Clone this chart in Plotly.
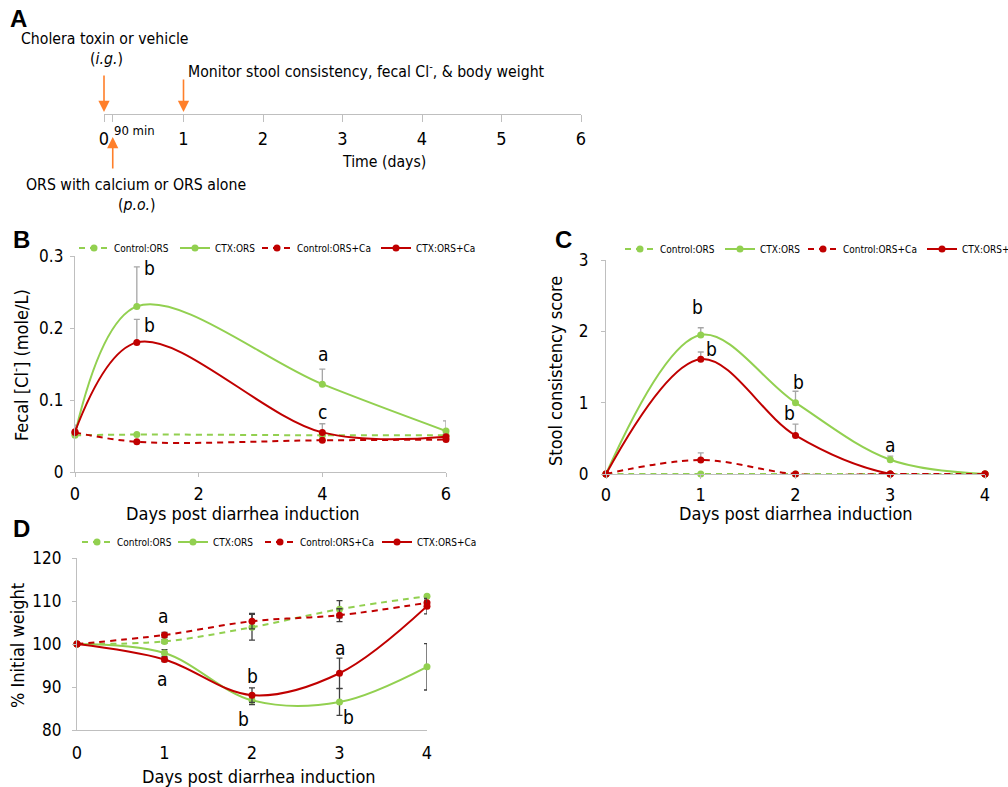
import plotly.graph_objects as go

W, H = 1008, 787
FONT = "DejaVu Sans Condensed, DejaVu Sans, sans-serif"
GREEN = "#92D050"
RED = "#C00000"
ORANGE = "#FF7F2A"

def px(x):
    return x / W

def py(y):
    return 1 - y / H

series_names = ["Control:ORS", "CTX:ORS", "Control:ORS+Ca", "CTX:ORS+Ca"]
series_colors = [GREEN, GREEN, RED, RED]
series_dash = ["6px,5px", "solid", "6px,5px", "solid"]

# Panel A timeline (days) and events
timeline_days = [0, 1, 2, 3, 4, 5, 6]
ors_day = 0.11          # 90 min after toxin (drawn schematic)
toxin_day = 0
monitor_day = 1

# Panel B: fecal chloride
b_days = [0, 1, 4, 6]
b_vals = {
    "Control:ORS": [0.051, 0.052, 0.051, 0.051],
    "CTX:ORS": [0.053, 0.230, 0.122, 0.057],
    "Control:ORS+Ca": [0.055, 0.042, 0.044, 0.045],
    "CTX:ORS+Ca": [0.056, 0.180, 0.055, 0.049],
}
b_err = {
    "Control:ORS": [0.004, 0.0, 0.0, 0.0],
    "CTX:ORS": [0.012, 0.055, 0.021, 0.014],
    "Control:ORS+Ca": [0.0, 0.0, 0.0, 0.0],
    "CTX:ORS+Ca": [0.006, 0.032, 0.012, 0.004],
}
b_letters = [(1.21, 0.283, "b"), (1.21, 0.204, "b"), (4.01, 0.164, "a"), (4.0, 0.083, "c")]

# Panel C: stool consistency
c_days = [0, 1, 2, 3, 4]
c_vals = {
    "Control:ORS": [0, 0, 0, 0, 0],
    "CTX:ORS": [0, 1.95, 1.0, 0.2, 0],
    "Control:ORS+Ca": [0, 0.196, 0, 0, 0],
    "CTX:ORS+Ca": [0, 1.61, 0.54, 0, 0],
}
c_err = {
    "Control:ORS": [0, 0, 0, 0, 0],
    "CTX:ORS": [0, 0.10, 0.16, 0.05, 0],
    "Control:ORS+Ca": [0, 0.10, 0, 0, 0],
    "CTX:ORS+Ca": [0, 0.10, 0.16, 0, 0],
}
c_letters = [(0.97, 2.34, "b"), (1.11, 1.75, "b"), (2.03, 1.29, "b"), (1.94, 0.86, "b"), (3.0, 0.41, "a")]

# Panel D: % initial weight
d_days = [0, 1, 2, 3, 4]
d_vals = {
    "Control:ORS": [100, 100.6, 103.9, 108.1, 111.1],
    "CTX:ORS": [100, 97.9, 86.9, 86.5, 94.7],
    "Control:ORS+Ca": [100, 102.1, 105.3, 106.7, 109.6],
    "CTX:ORS+Ca": [100, 96.4, 88.1, 93.2, 108.8],
}
d_err = {
    "Control:ORS": [0, 0.4, 3.0, 2.0, 0.3],
    "CTX:ORS": [0, 0.8, 1.0, 3.1, 5.4],
    "Control:ORS+Ca": [0, 0.6, 1.8, 1.5, 0.6],
    "CTX:ORS+Ca": [0, 0.5, 1.7, 3.5, 1.8],
}
d_letters = [(0.98, 106.4, "a"), (0.97, 91.9, "a"), (2.01, 92.6, "b"), (1.9, 82.6, "b"),
             (3.0, 99.0, "a"), (3.1, 83.0, "b"), (4.07, 106.0, "c"), (4.06, 86.8, "b")]

# legend entry text start (px) per panel, and legend row y (px)
legend_text_x = {
    "B": [114, 215, 297, 416],
    "C": [660, 760, 843, 962],
    "D": [117, 213, 300, 417],
}
legend_row_y = {"B": 248, "C": 249, "D": 542}

fig = go.Figure()
legends = {}
leg_counter = [0]

def add_panel(panel, days, vals, errs, xa, ya, err_color, symmetric):
    for i, (name, col, dash) in enumerate(zip(series_names, series_colors, series_dash)):
        leg_counter[0] += 1
        lid = "legend" if leg_counter[0] == 1 else f"legend{leg_counter[0]}"
        legends[lid] = dict(
            x=px(legend_text_x[panel][i] - 40), y=py(legend_row_y[panel]),
            xanchor="left", yanchor="middle", orientation="h",
            font=dict(family=FONT, size=10, color="black"), itemwidth=30,
            bgcolor="rgba(0,0,0,0)", borderwidth=0,
        )
        err = dict(type="data", array=errs[name], visible=True, color=err_color,
                   thickness=1.3, width=3)
        if not symmetric:
            err["symmetric"] = False
            err["arrayminus"] = [0] * len(days)
        fig.add_trace(go.Scatter(
            x=days, y=vals[name], name=name, mode="lines+markers",
            line=dict(color=col, width=2, dash=dash, shape="spline", smoothing=1),
            marker=dict(color=col, size=7),
            error_y=err, xaxis=xa, yaxis=ya, legend=lid, cliponaxis=False,
        ))

add_panel("B", b_days, b_vals, b_err, "x2", "y2", "#A6A6A6", False)
add_panel("C", c_days, c_vals, c_err, "x3", "y3", "#A6A6A6", False)
add_panel("D", d_days, d_vals, d_err, "x4", "y4", "#404040", True)

annotations = []

def letter_annots(letters, xr, yr):
    for x, y, t in letters:
        annotations.append(dict(x=x, y=y, xref=xr, yref=yr, text=t, showarrow=False,
                                font=dict(family=FONT, size=19, color="black")))

letter_annots(b_letters, "x2", "y2")
letter_annots(c_letters, "x3", "y3")
letter_annots(d_letters, "x4", "y4")

def txt(x, y, t, size, xanchor="center", bold=False, angle=0):
    annotations.append(dict(x=px(x), y=py(y), xref="paper", yref="paper", text=t,
                            showarrow=False, xanchor=xanchor, yanchor="middle",
                            textangle=angle,
                            font=dict(family=FONT if not bold else "Liberation Sans, Arial",
                                      size=size, color="black")))

# Panel labels
for lab, x, y in [("<b>A</b>", 18, 19), ("<b>B</b>", 21, 240), ("<b>C</b>", 563, 240), ("<b>D</b>", 21, 528)]:
    txt(x, y, lab, 24, bold=True)

# Panel A texts
ASZ = 15.7
txt(105, 39, "Cholera toxin or vehicle", ASZ)
txt(106, 58, "(<i>i.g.</i>)", ASZ)
txt(186, 70, "Monitor stool consistency, fecal Cl<sup>-</sup>, &amp; body weight", ASZ, xanchor="left")
txt(136, 184, "ORS with calcium or ORS alone", ASZ)
txt(137, 204, "(<i>p.o.</i>)", ASZ)
txt(384, 161, "Time (days)", ASZ)
txt(134, 130, "90 min", 13)

# Arrows in panel A (x in timeline days, y in px)
A_X0, A_X6 = 104, 581
for xd, tip_y, ay in [(toxin_day, 112, -38), (monitor_day, 112, -34), (ors_day, 137, 33)]:
    annotations.append(dict(x=xd, y=py(tip_y), xref="x", yref="paper", text="",
                            showarrow=True, arrowhead=2, arrowsize=1.4, arrowwidth=1.6,
                            arrowcolor=ORANGE, ax=0, ay=ay, standoff=0))

# Axis titles
txt(243, 513, "Days post diarrhea induction", 18)
txt(796, 513, "Days post diarrhea induction", 18)
txt(259, 776, "Days post diarrhea induction", 18)
txt(20, 365, "Fecal [Cl<sup>-</sup>] (mole/L)", 18, angle=-90)
txt(555, 371, "Stool consistency score", 18, angle=-90)
txt(17, 646, "% Initial weight", 18, angle=-90)

AXC = "#BFBFBF"
xtickfont = dict(family=FONT, size=18, color="black")
ytickfont = dict(family=FONT, size=17, color="black")

def xax(dom, rng, dtick, anchor, standoff, ticks="outside"):
    return dict(domain=dom, range=rng, dtick=dtick, showgrid=False, zeroline=False,
                showline=True, linecolor=AXC, linewidth=1.3, ticks=ticks, ticklen=4,
                tickcolor=AXC, tickfont=xtickfont, anchor=anchor, fixedrange=True,
                ticklabelstandoff=standoff)

def yax(dom, rng, dtick, anchor, standoff):
    return dict(domain=dom, range=rng, dtick=dtick, showgrid=False, zeroline=False,
                showline=True, linecolor=AXC, linewidth=1.3, ticks="outside", ticklen=4,
                tickcolor=AXC, tickfont=ytickfont, anchor=anchor, fixedrange=True,
                ticklabelstandoff=standoff)

fig.update_layout(
    width=W, height=H, margin=dict(l=0, r=0, t=0, b=0, autoexpand=False), autosize=False,
    paper_bgcolor="white", plot_bgcolor="white",
    showlegend=True,
    xaxis=dict(domain=[px(A_X0), px(A_X6)], range=[0, 6],
               tickvals=[0, ors_day] + timeline_days[1:],
               ticktext=["0", ""] + [str(d) for d in timeline_days[1:]],
               showgrid=False, zeroline=False, showline=True, linecolor=AXC, linewidth=1.3,
               ticks="outside", ticklen=7, tickcolor=AXC, tickfont=xtickfont, anchor="y",
               fixedrange=True, ticklabelstandoff=1),
    yaxis=dict(domain=[py(114), py(30)], range=[0, 1], visible=False, anchor="x", fixedrange=True),
    xaxis2=xax([px(75), px(446)], [0, 6], 2, "y2", 1),
    yaxis2=yax([py(472), py(256)], [0, 0.3], 0.1, "x2", 3),
    xaxis3=xax([px(606), px(985)], [0, 4], 1, "y3", 0),
    yaxis3=yax([py(474), py(260)], [0, 3], 1, "x3", 9),
    xaxis4=xax([px(77), px(427)], [0, 4], 1, "y4", 6, ticks=""),
    yaxis4=yax([py(730), py(558)], [80, 120], 10, "x4", 7),
    annotations=annotations,
    **legends,
)

fig.write_html(
    "out.html",
    config={"responsive": False, "displayModeBar": False},
    post_script="document.body.style.margin='0';document.body.style.overflow='hidden';",
)
